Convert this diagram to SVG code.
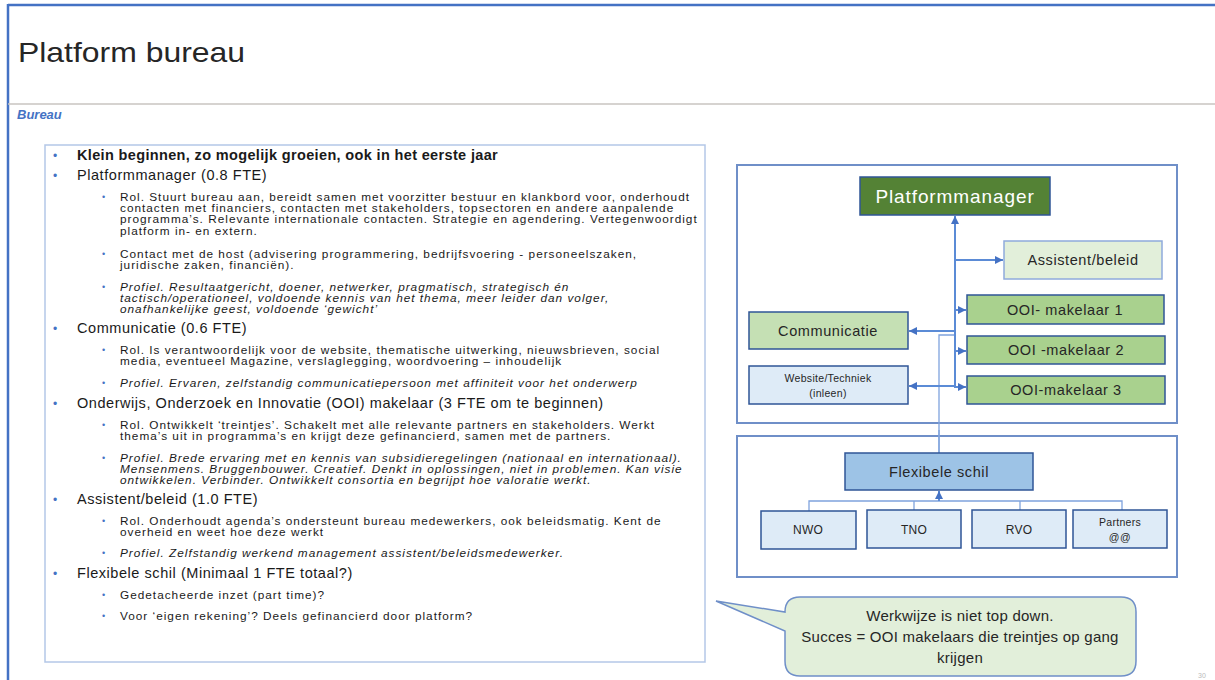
<svg xmlns="http://www.w3.org/2000/svg" width="1215" height="680" viewBox="0 0 1215 680">
<style>
.t{font-family:"Liberation Sans",Arial,sans-serif;fill:#1a1a1a}
.main{font-size:14.5px;letter-spacing:0.55px}
.sub{font-size:11.8px;letter-spacing:1px}
.it{font-style:italic}
.bl{fill:#4472C4;font-family:"Liberation Sans",Arial,sans-serif}
.node{stroke:#2F5597;stroke-width:1.5}
.nl{font-family:"Liberation Sans",Arial,sans-serif;fill:#262626;text-anchor:middle;letter-spacing:0.6px}
.con{fill:none;stroke:#5B8BD6;stroke-width:2}
.thin{fill:none;stroke:#7FA3DD;stroke-width:1.3}
</style>
<defs>
<marker id="ah" markerUnits="userSpaceOnUse" markerWidth="8" markerHeight="8" refX="8" refY="4" orient="auto">
<path d="M0,0 L8,4 L0,8 z" fill="#4472C4"/>
</marker>
</defs>
<rect width="1215" height="680" fill="#ffffff"/>
<line x1="8" y1="5" x2="1215" y2="5" stroke="#4472C4" stroke-width="2.5"/>
<line x1="8" y1="4" x2="8" y2="680" stroke="#4472C4" stroke-width="2.5"/>
<line x1="8" y1="104" x2="1215" y2="104" stroke="#C9C4C0" stroke-width="1.5"/>
<text x="18" y="62" font-family="'Liberation Sans',Arial,sans-serif" font-size="28" fill="#262626" textLength="227" lengthAdjust="spacingAndGlyphs">Platform bureau</text>
<text x="17" y="119" font-family="'Liberation Sans',Arial,sans-serif" font-size="13" font-weight="bold" font-style="italic" fill="#4472C4">Bureau</text>

<g id="textbox">
<rect x="45" y="145" width="660" height="517" fill="#ffffff" stroke="#B4C7E7" stroke-width="1.5"/>
<g class="bl" font-size="12">
<text x="53" y="160">•</text><text x="53" y="180">•</text><text x="53" y="333">•</text><text x="53" y="408">•</text><text x="53" y="504">•</text><text x="53" y="578">•</text>
</g>
<g class="bl" font-size="9">
<text x="102" y="200">•</text><text x="102" y="257">•</text><text x="102" y="290">•</text><text x="102" y="353">•</text><text x="102" y="386">•</text><text x="102" y="428">•</text><text x="102" y="461">•</text><text x="102" y="524">•</text><text x="102" y="556">•</text><text x="102" y="598">•</text><text x="102" y="619">•</text>
</g>
<text class="t main" x="77" y="160" font-weight="bold" style="letter-spacing:0.35px">Klein beginnen, zo mogelijk groeien, ook in het eerste jaar</text>
<text class="t main" x="77" y="180">Platformmanager  (0.8 FTE)</text>
<text class="t sub" x="120" y="201">Rol. Stuurt bureau aan, bereidt samen met voorzitter bestuur en klankbord voor, onderhoudt</text>
<text class="t sub" x="120" y="212">contacten met financiers, contacten met stakeholders, topsectoren en andere aanpalende</text>
<text class="t sub" x="120" y="223">programma’s. Relevante internationale contacten. Strategie en agendering. Vertegenwoordigt</text>
<text class="t sub" x="120" y="235">platform in- en extern.</text>
<text class="t sub" x="120" y="258">Contact met de host (advisering programmering, bedrijfsvoering - personeelszaken,</text>
<text class="t sub" x="120" y="269">juridische zaken, financiën).</text>
<text class="t sub it" x="120" y="291">Profiel. Resultaatgericht, doener, netwerker, pragmatisch, strategisch én</text>
<text class="t sub it" x="120" y="302">tactisch/operationeel, voldoende kennis van het thema,  meer leider dan volger,</text>
<text class="t sub it" x="120" y="313">onafhankelijke geest, voldoende ‘gewicht’</text>
<text class="t main" x="77" y="333">Communicatie  (0.6 FTE)</text>
<text class="t sub" x="120" y="354">Rol. Is verantwoordelijk voor de website, thematische uitwerking, nieuwsbrieven, social</text>
<text class="t sub" x="120" y="365">media, eventueel Magazine, verslaglegging, woordvoering – inhoudelijk</text>
<text class="t sub it" x="120" y="387">Profiel. Ervaren, zelfstandig  communicatiepersoon met affiniteit voor het onderwerp</text>
<text class="t main" x="77" y="408">Onderwijs, Onderzoek  en Innovatie (OOI)  makelaar  (3 FTE om te beginnen)</text>
<text class="t sub" x="120" y="429">Rol. Ontwikkelt ‘treintjes’. Schakelt met alle relevante partners en stakeholders. Werkt</text>
<text class="t sub" x="120" y="440">thema’s uit in programma’s en krijgt deze gefinancierd, samen met de partners.</text>
<text class="t sub it" x="120" y="462">Profiel. Brede ervaring met en kennis van subsidieregelingen (nationaal en internationaal).</text>
<text class="t sub it" x="120" y="473">Mensenmens. Bruggenbouwer.  Creatief.  Denkt in oplossingen, niet in problemen. Kan visie</text>
<text class="t sub it" x="120" y="484">ontwikkelen. Verbinder. Ontwikkelt consortia en begrijpt hoe valoratie werkt.</text>
<text class="t main" x="77" y="504">Assistent/beleid  (1.0 FTE)</text>
<text class="t sub" x="120" y="525">Rol. Onderhoudt agenda’s ondersteunt bureau medewerkers, ook beleidsmatig. Kent de</text>
<text class="t sub" x="120" y="536">overheid en weet hoe deze werkt</text>
<text class="t sub it" x="120" y="557">Profiel. Zelfstandig werkend management assistent/beleidsmedewerker.</text>
<text class="t main" x="77" y="578">Flexibele schil (Minimaal 1 FTE totaal?)</text>
<text class="t sub" x="120" y="599">Gedetacheerde inzet (part time)?</text>
<text class="t sub" x="120" y="620">Voor ‘eigen rekening’? Deels gefinancierd door platform?</text>
</g>

<g id="frame-bureau"><rect x="737" y="165" width="440" height="258" fill="none" stroke="#6F8FC8" stroke-width="2"/></g>
<g id="frame-schil"><rect x="737" y="436" width="440" height="141" fill="none" stroke="#6F8FC8" stroke-width="2"/></g>

<g id="connectors">
<polyline class="thin" points="939,453 939,335 955,335"/>
<line class="con" x1="955" y1="388" x2="955" y2="216" marker-end="url(#ah)"/>
<line class="con" x1="955" y1="260" x2="1003" y2="260" marker-end="url(#ah)"/>
<line class="con" x1="955" y1="310" x2="966" y2="310" marker-end="url(#ah)"/>
<line class="con" x1="955" y1="351" x2="966" y2="351" marker-end="url(#ah)"/>
<line class="con" x1="955" y1="387" x2="966" y2="387" marker-end="url(#ah)"/>
<line class="con" x1="955" y1="331" x2="909" y2="331" marker-end="url(#ah)"/>
<line class="con" x1="955" y1="386" x2="909" y2="386" marker-end="url(#ah)"/>
<line class="thin" x1="939" y1="430" x2="939" y2="453"/>
<polyline class="thin" points="809,511 809,501 1122,501 1122,510"/>
<line class="thin" x1="914" y1="501" x2="914" y2="510"/>
<line class="thin" x1="1020" y1="501" x2="1020" y2="510"/>
<line class="con" x1="939" y1="501" x2="939" y2="491" marker-end="url(#ah)"/>
</g>

<g id="platformmanager"><rect class="node" x="860" y="177" width="190" height="38" fill="#548235"/><text class="nl" x="955" y="203" font-size="19" style="fill:#ffffff;letter-spacing:0.9px">Platformmanager</text></g>
<g id="assistent"><rect x="1004" y="241" width="158" height="38" fill="#E2EFDA" stroke="#8FAADC" stroke-width="1.5"/><text class="nl" x="1083" y="265" font-size="14.5">Assistent/beleid</text></g>
<g id="ooi1"><rect class="node" x="967" y="295" width="197" height="29" fill="#A9D18E"/><text class="nl" x="1065" y="315" font-size="14.5">OOI- makelaar  1</text></g>
<g id="ooi2"><rect class="node" x="967" y="336" width="198" height="28" fill="#A9D18E"/><text class="nl" x="1066" y="355" font-size="14.5">OOI -makelaar  2</text></g>
<g id="ooi3"><rect class="node" x="967" y="376" width="198" height="28" fill="#A9D18E"/><text class="nl" x="1066" y="395" font-size="14.5">OOI-makelaar  3</text></g>
<g id="communicatie"><rect class="node" x="749" y="312" width="159" height="37" fill="#C5E0B4"/><text class="nl" x="828" y="336" font-size="14.5">Communicatie</text></g>
<g id="website"><rect class="node" x="749" y="366" width="159" height="38" fill="#DEEBF7"/><text class="nl" x="828" y="382" font-size="10.5" style="letter-spacing:0.3px">Website/Techniek</text><text class="nl" x="828" y="397" font-size="10.5" style="letter-spacing:0.3px">(inleen)</text></g>

<g id="flexibele-schil"><rect class="node" x="845" y="453" width="188" height="37" fill="#9DC3E6"/><text class="nl" x="939" y="477" font-size="14.5">Flexibele schil</text></g>
<g id="nwo"><rect class="node" x="761" y="511" width="95" height="38" fill="#DEEBF7"/><text class="nl" x="808" y="534" font-size="12" style="letter-spacing:0.2px">NWO</text></g>
<g id="tno"><rect class="node" x="867" y="510" width="94" height="38" fill="#DEEBF7"/><text class="nl" x="914" y="534" font-size="12" style="letter-spacing:0.2px">TNO</text></g>
<g id="rvo"><rect class="node" x="972" y="510" width="94" height="38" fill="#DEEBF7"/><text class="nl" x="1019" y="534" font-size="12" style="letter-spacing:0.2px">RVO</text></g>
<g id="partners"><rect class="node" x="1073" y="510" width="94" height="38" fill="#DEEBF7"/><text class="nl" x="1120" y="526" font-size="10.5" style="letter-spacing:0.3px">Partners</text><text class="nl" x="1120" y="541" font-size="10.5">@@</text></g>

<g id="callout">
<path d="M800,597 H1121 Q1136,597 1136,612 V661 Q1136,676 1121,676 H800 Q785,676 785,661 V631 L716,601 L785,612 Q785,597 800,597 Z" fill="#E2EFDA" stroke="#6F8FC8" stroke-width="1.5"/>
<text class="nl" x="960" y="621" font-size="15" style="letter-spacing:0.25px">Werkwijze  is niet top down.</text>
<text class="nl" x="960" y="642" font-size="15" style="letter-spacing:0.25px">Succes = OOI makelaars  die treintjes op gang</text>
<text class="nl" x="960" y="663" font-size="15" style="letter-spacing:0.25px">krijgen</text>
</g>
<text x="1198" y="678" font-family="'Liberation Sans',Arial,sans-serif" font-size="7" fill="#BBBBBB">30</text>
</svg>
